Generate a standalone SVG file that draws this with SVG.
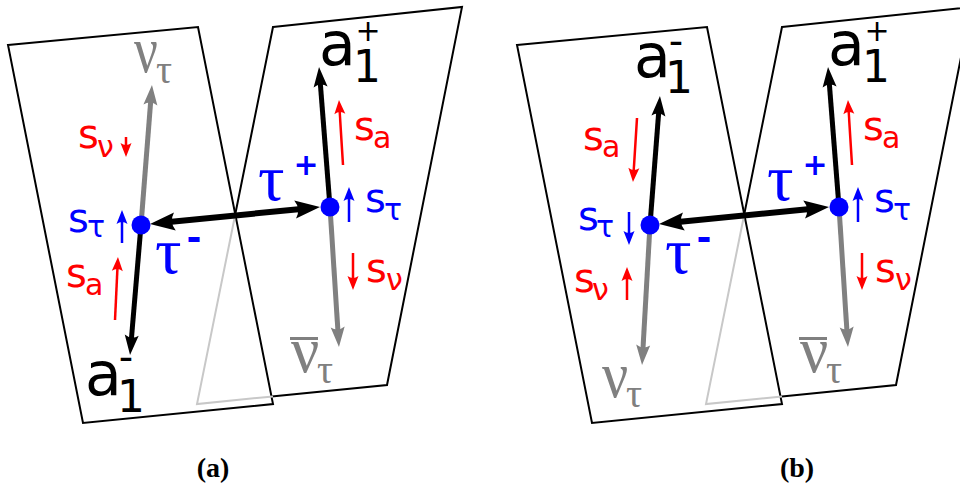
<svg xmlns="http://www.w3.org/2000/svg" width="960" height="486" viewBox="0 0 960 486">
<defs>
<style>
.plane{fill:#fff;stroke:#000;stroke-width:2;stroke-linejoin:miter}
.hidden{fill:none;stroke:#c8c8c8;stroke-width:2}
.dot{fill:#0000ff}
.blk{fill:none;stroke:#000;stroke-width:5;marker-end:url(#hk)}
.gry{fill:none;stroke:#808080;stroke-width:5;marker-end:url(#hg)}
.dbl{fill:none;stroke:#000;stroke-width:6;marker-start:url(#hb);marker-end:url(#hb)}
.red{fill:none;stroke:#ff0000;stroke-width:2.5;marker-end:url(#sr)}
.blu{fill:none;stroke:#0000ff;stroke-width:2.5;marker-end:url(#sb)}
.sans{font-family:"DejaVu Sans",sans-serif}
.serif{font-family:"Liberation Serif","DejaVu Serif",serif}
.a{font-size:60px;fill:#000}
.one{font-size:44px;fill:#000}
.sup{font-size:30px;fill:#000;text-anchor:middle}
.dash{font-size:40px;fill:#000;text-anchor:middle}
.nu{font-size:66px;fill:#808080}
.nusub{font-size:40px;fill:#808080}
.tau{font-size:66px;fill:#0000ff}
.tsup{font-size:30px;font-weight:bold;fill:#0000ff;text-anchor:middle}
.tdash{font-size:36px;font-weight:bold;fill:#0000ff;text-anchor:middle}
.sr{font-size:40px;fill:#ff0000}
.srs{font-size:30px;fill:#ff0000}
.sb{font-size:40px;fill:#0000ff}
.sbs{font-size:30px;fill:#0000ff}
.bar{fill:#808080}
.cap{font-family:"Liberation Serif",serif;font-weight:bold;font-size:28px;text-anchor:middle;fill:#000}
</style>
<marker id="hb" markerUnits="userSpaceOnUse" orient="auto-start-reverse" overflow="visible"><path d="M19,0 L-6,-9 Q0,0 -6,9 Z" fill="#000"/></marker>
<marker id="hk" markerUnits="userSpaceOnUse" orient="auto" overflow="visible"><path d="M15,0 L-5,-7 Q0,0 -5,7 Z" fill="#000"/></marker>
<marker id="hg" markerUnits="userSpaceOnUse" orient="auto" overflow="visible"><path d="M15,0 L-5,-7 Q0,0 -5,7 Z" fill="#808080"/></marker>
<marker id="sr" markerUnits="userSpaceOnUse" orient="auto" overflow="visible"><path d="M10,0 L-4,-5.5 Q0,0 -4,5.5 Z" fill="#ff0000"/></marker>
<marker id="sb" markerUnits="userSpaceOnUse" orient="auto" overflow="visible"><path d="M10,0 L-4,-5.5 Q0,0 -4,5.5 Z" fill="#0000ff"/></marker>
</defs>
<rect width="960" height="486" fill="#fff"/>

<!-- panel (a) planes -->
<g id="planes-a">
<polygon class="plane" points="273,27 462,7 387,385 197,404"/>
<polygon class="plane" points="8,45 198,27 273,404 83,423"/>
<polyline class="hidden" points="235.3,214.3 197,404 273,396.4"/>
</g>
<!-- panel (b) planes -->
<g id="planes-b">
<polygon class="plane" points="782,27 971,7 896,385 706,404"/>
<polygon class="plane" points="517,45 707,27 782,404 592,423"/>
<polyline class="hidden" points="744.3,214.3 706,404 782,396.4"/>
</g>

<g id="connectors">
<!-- (a) -->
<line class="dbl" x1="168.9" y1="222.1" x2="301.1" y2="208.9"/>
<line class="blk" x1="141" y1="225" x2="131.3" y2="340.1"/>
<line class="gry" x1="141" y1="225" x2="150.8" y2="100"/>
<line class="blk" x1="330" y1="207" x2="320.2" y2="82"/>
<line class="gry" x1="330" y1="207" x2="338" y2="332"/>
<line class="red" x1="126" y1="137" x2="126" y2="147"/>
<line class="blu" x1="122" y1="243" x2="122" y2="220"/>
<line class="red" x1="115" y1="320" x2="117.5" y2="267"/>
<line class="red" x1="343" y1="165" x2="339.6" y2="110"/>
<line class="blu" x1="349" y1="222" x2="349" y2="197"/>
<line class="red" x1="353" y1="253" x2="353" y2="280"/>
<!-- (b) -->
<line class="dbl" x1="677.9" y1="222.1" x2="810.1" y2="208.9"/>
<line class="blk" x1="650" y1="225" x2="658.8" y2="111"/>
<line class="gry" x1="650" y1="225" x2="642.9" y2="350"/>
<line class="blk" x1="839" y1="207" x2="829.2" y2="82"/>
<line class="gry" x1="839" y1="207" x2="847" y2="332"/>
<line class="red" x1="637" y1="118" x2="633.6" y2="172"/>
<line class="blu" x1="629" y1="212" x2="629" y2="235"/>
<line class="red" x1="627" y1="300" x2="627" y2="277"/>
<line class="red" x1="852" y1="165" x2="848.6" y2="110"/>
<line class="blu" x1="858" y1="222" x2="858" y2="197"/>
<line class="red" x1="862" y1="253" x2="862" y2="280"/>
</g>

<!-- (a) nodes -->
<g id="tau-minus-a">
<circle class="dot" cx="141" cy="225" r="9.5"/>
<text class="serif tau" x="155" y="273">τ</text>
<text class="sans tdash" x="194" y="250">-</text>
</g>
<g id="tau-plus-a">
<circle class="dot" cx="330" cy="207" r="9.5"/>
<text class="serif tau" x="258" y="200">τ</text>
<text class="sans tsup" x="306" y="175">+</text>
</g>
<g id="nu-a">
<text class="serif nu" transform="translate(134,72) scale(0.8,1)">ν</text>
<text class="serif nusub" x="156" y="83">τ</text>
</g>
<g id="a1minus-a">
<text class="sans a" x="85" y="395">a</text>
<text class="sans one" x="117" y="412">1</text>
<text class="sans dash" x="126" y="371">-</text>
</g>
<g id="a1plus-a">
<text class="sans a" x="319" y="65">a</text>
<text class="sans one" x="353" y="82">1</text>
<text class="sans sup" x="368" y="41">+</text>
</g>
<g id="nubar-a">
<rect class="bar" x="290" y="337" width="28" height="3"/>
<text class="serif nu" transform="translate(291,372) scale(0.95,1)">ν</text>
<text class="serif nusub" x="317" y="383">τ</text>
</g>
<g id="spins-a-left">
<text class="sans sr" x="78" y="148">s</text><text class="sans srs" x="97" y="157">ν</text>
<text class="sans sb" x="68" y="232">s</text><text class="sans sbs" x="87" y="237">τ</text>
<text class="sans sr" x="66" y="287">s</text><text class="sans srs" x="85" y="295">a</text>
</g>
<g id="spins-a-right">
<text class="sans sr" x="354" y="140">s</text><text class="sans srs" x="373" y="148">a</text>
<text class="sans sb" x="365" y="212">s</text><text class="sans sbs" x="384" y="220">τ</text>
<text class="sans sr" x="366" y="282">s</text><text class="sans srs" x="386" y="290">ν</text>
</g>

<!-- (b) nodes -->
<g id="tau-minus-b">
<circle class="dot" cx="650" cy="225" r="9.5"/>
<text class="serif tau" x="665" y="273">τ</text>
<text class="sans tdash" x="704" y="250">-</text>
</g>
<g id="tau-plus-b">
<circle class="dot" cx="839" cy="207" r="9.5"/>
<text class="serif tau" x="767" y="200">τ</text>
<text class="sans tsup" x="815" y="175">+</text>
</g>
<g id="a1minus-b">
<text class="sans a" x="634" y="77">a</text>
<text class="sans one" x="665" y="93">1</text>
<text class="sans dash" x="676" y="54.5">-</text>
</g>
<g id="nu-b">
<text class="serif nu" transform="translate(602,397) scale(0.88,1)">ν</text>
<text class="serif nusub" x="626" y="407">τ</text>
</g>
<g id="a1plus-b">
<text class="sans a" x="828" y="65">a</text>
<text class="sans one" x="862" y="82">1</text>
<text class="sans sup" x="877" y="41">+</text>
</g>
<g id="nubar-b">
<rect class="bar" x="799" y="337" width="28" height="3"/>
<text class="serif nu" transform="translate(800,372) scale(0.95,1)">ν</text>
<text class="serif nusub" x="826" y="383">τ</text>
</g>
<g id="spins-b-left">
<text class="sans sr" x="583" y="150">s</text><text class="sans srs" x="602" y="157">a</text>
<text class="sans sb" x="578" y="230">s</text><text class="sans sbs" x="596" y="237">τ</text>
<text class="sans sr" x="574" y="292">s</text><text class="sans srs" x="592" y="300">ν</text>
</g>
<g id="spins-b-right">
<text class="sans sr" x="863" y="140">s</text><text class="sans srs" x="882" y="148">a</text>
<text class="sans sb" x="874" y="212">s</text><text class="sans sbs" x="893" y="220">τ</text>
<text class="sans sr" x="875" y="282">s</text><text class="sans srs" x="895" y="290">ν</text>
</g>

<g id="captions">
<text class="cap" x="213" y="477">(a)</text>
<text class="cap" x="797" y="477">(b)</text>
</g>
</svg>
